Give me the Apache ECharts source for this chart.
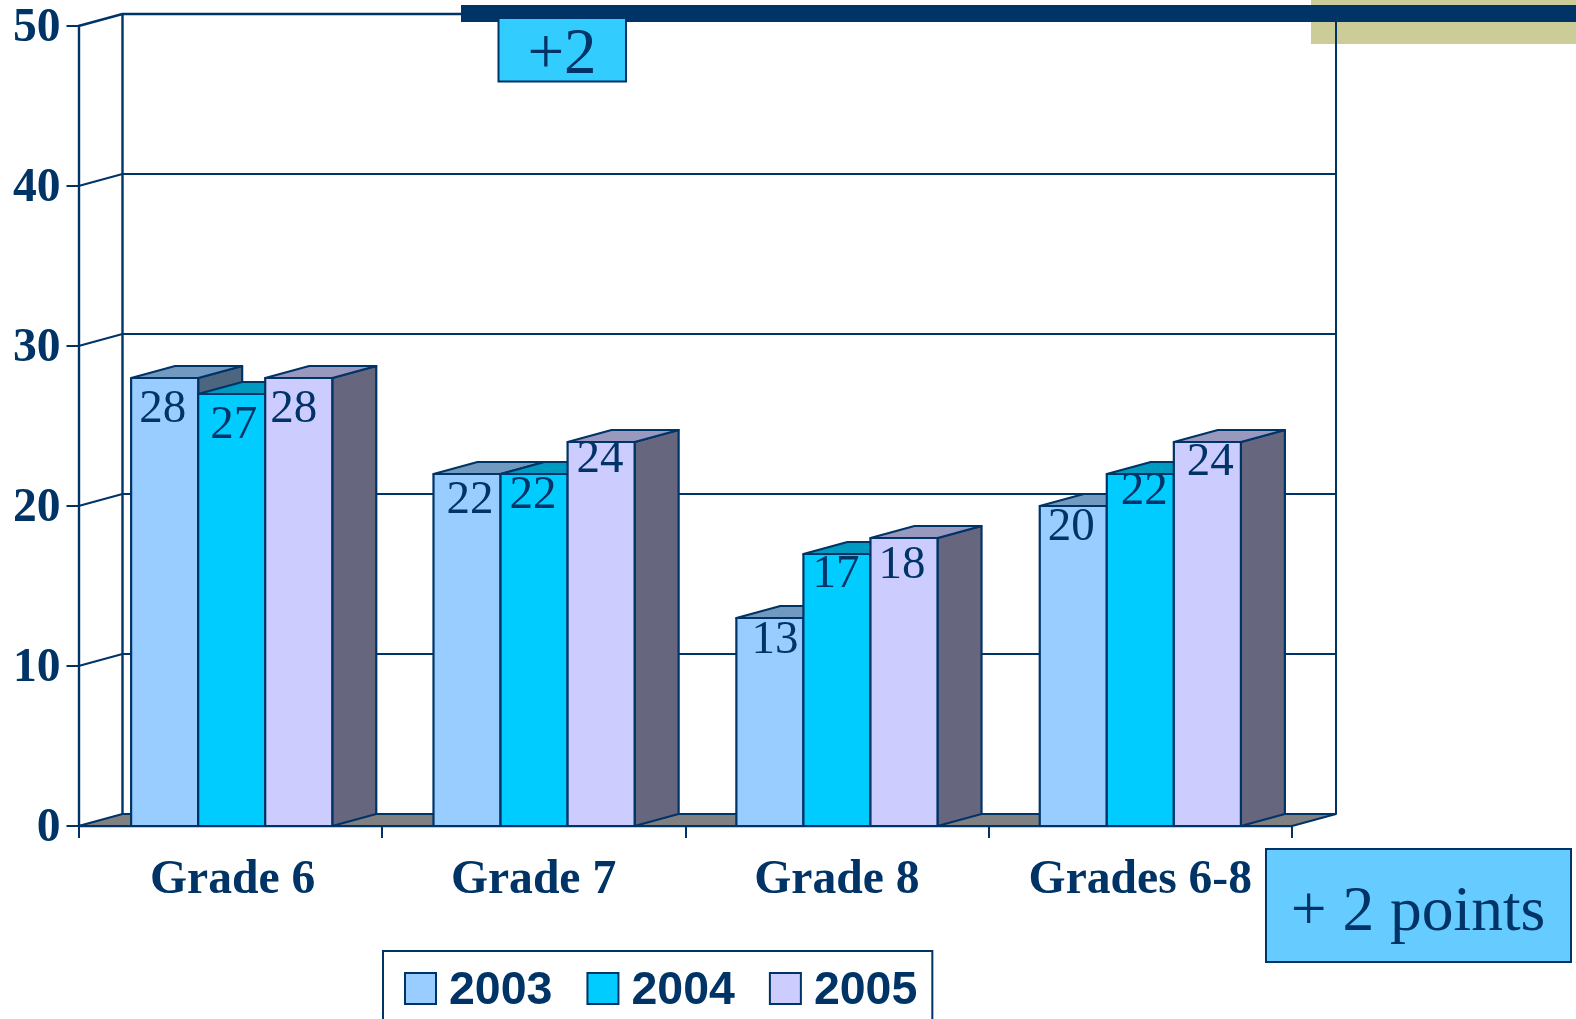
<!DOCTYPE html>
<html>
<head>
<meta charset="utf-8">
<title>Grade points</title>
<script src="https://cdn.jsdelivr.net/npm/echarts@6/dist/echarts.min.js"></script>
<style>
    html, body { margin: 0; padding: 0; background: #ffffff; }
    #main { width: 1576px; height: 1019px; }
</style>
</head>
<body>
<div id="main"></div>
<script>
    // values
    var categories = ['Grade 6', 'Grade 7', 'Grade 8', 'Grades 6-8']
    var years = ['2003', '2004', '2005']
    var values2003 = [28, 22, 13, 20]
    var values2004 = [27, 22, 17, 22]
    var values2005 = [28, 24, 18, 24]
    var yTicks = [0, 10, 20, 30, 40, 50]

    // colours of each bar: front, top, side
    var frontColors = ['#99CCFF', '#00CCFF', '#CCCCFF']
    var topColors = ['#7299BF', '#0099BF', '#9999BF']
    var sideColors = ['#4C667F', '#00667F', '#66667F']

    // labels were placed by hand in the original, so each one has its own nudge
    var nudgeX = [[-2, 3, 5, -2], [2, -1, -1, 4], [-5, -1, -2, 3]]
    var nudgeY = [[32, 27, 23, 22], [32, 22, 21, 18], [32, 18, 28, 21]]
    var groupNudge = [1.5, 0.5, 0, 0]

    var navy = '#003366'
    var depthX = 44
    var depthY = -12
    var barShare = 0.221

    var theChart = echarts.init(document.getElementById('main'))

    // back wall, floor and the little connectors from the axis
    function renderWall(params, api) {
        var v = api.value(1)
        var sys = params.coordSys
        var y = api.coord([0, v])[1]
        var left = sys.x
        var right = sys.x + sys.width
        var lineStyle = { stroke: navy, lineWidth: v == 50 ? 2.4 : 2, fill: null, lineJoin: 'round' }
        var children = []
        if (v == 0) {
            children.push({
                type: 'polygon',
                shape: { points: [[left, y], [left + depthX, y + depthY], [right + depthX, y + depthY], [right, y]] },
                style: { fill: '#808080', stroke: navy, lineWidth: 2, lineJoin: 'round' }
            })
        } else {
            children.push({
                type: 'polyline',
                shape: { points: [[left, y], [left + depthX, y + depthY], [right + depthX, y + depthY]] },
                style: lineStyle
            })
        }
        if (v == 50) {
            var bottom = sys.y + sys.height
            children.push({
                type: 'line',
                shape: { x1: left + depthX, y1: y + depthY, x2: left + depthX, y2: bottom + depthY },
                style: { stroke: navy, lineWidth: 2.4 }
            })
            children.push({
                type: 'line',
                shape: { x1: right + depthX, y1: y + depthY, x2: right + depthX, y2: bottom + depthY },
                style: { stroke: navy, lineWidth: 2 }
            })
        }
        return { type: 'group', children: children }
    }

    function barRenderer(s) {
        return function (params, api) {
            var i = api.value(0)
            var v = api.value(1)
            var band = api.size([1, 0])[0]
            var w = band * barShare
            var top = api.coord([i, v])
            var base = api.coord([i, 0])
            var x = top[0] + (s - 1) * w - w / 2 + groupNudge[i]
            var edge = { stroke: navy, lineWidth: 2.2, lineJoin: 'round' }
            return {
                type: 'group',
                children: [{
                    type: 'polygon',
                    shape: { points: [[x + w, top[1]], [x + w + depthX, top[1] + depthY], [x + w + depthX, base[1] + depthY], [x + w, base[1]]] },
                    style: Object.assign({ fill: sideColors[s] }, edge)
                }, {
                    type: 'polygon',
                    shape: { points: [[x, top[1]], [x + depthX, top[1] + depthY], [x + w + depthX, top[1] + depthY], [x + w, top[1]]] },
                    style: Object.assign({ fill: topColors[s] }, edge)
                }, {
                    type: 'rect',
                    shape: { x: x, y: top[1], width: w, height: base[1] - top[1] },
                    style: Object.assign({ fill: frontColors[s] }, edge)
                }, {
                    type: 'text',
                    style: {
                        text: String(v),
                        x: x + w / 2 + nudgeX[s][i],
                        y: top[1] + nudgeY[s][i],
                        fill: navy,
                        font: '47px "Liberation Serif"',
                        align: 'center',
                        verticalAlign: 'middle'
                    }
                }]
            }
        }
    }

    function barSeries(name, s, values) {
        return {
            name: name,
            type: 'custom',
            renderItem: barRenderer(s),
            data: values.map(function (v, i) { return [i, v] }),
            encode: { x: 0, y: 1 },
            clip: false,
            z: 3 + s
        }
    }

    var boldSerif = { color: navy, fontFamily: 'Liberation Serif', fontWeight: 'bold', fontSize: 47.6 }

    var option = {
        backgroundColor: '#ffffff',
        animation: false,
        grid: { left: 78.5, top: 26, width: 1213.5, height: 800, containLabel: false },
        legend: {
            left: 383,
            top: 951,
            orient: 'horizontal',
            padding: [17, 15, 40, 21],
            borderColor: navy,
            borderWidth: 2,
            itemWidth: 31,
            itemHeight: 31,
            itemGap: 34,
            selectedMode: false,
            formatter: '{t|{name}}',
            textStyle: {
                color: navy,
                fontFamily: 'Liberation Sans',
                fontWeight: 'bold',
                fontSize: 46.5,
                rich: {
                    t: {
                        color: navy,
                        fontFamily: 'Liberation Sans',
                        fontWeight: 'bold',
                        fontSize: 46.5,
                        padding: [6, 0, 0, 8]
                    }
                }
            },
            data: years.map(function (y, s) {
                return {
                    name: y,
                    icon: 'rect',
                    itemStyle: { color: frontColors[s], borderColor: navy, borderWidth: 2 }
                }
            })
        },
        xAxis: {
            type: 'category',
            data: categories,
            axisLine: { lineStyle: { color: navy, width: 2.4 } },
            axisTick: { show: true, length: 12, lineStyle: { color: navy, width: 2 } },
            axisLabel: Object.assign({
                interval: 0,
                margin: 31,
                formatter: function (value, index) {
                    return index == 0 ? '{first|' + value + '}' : value
                },
                rich: { first: Object.assign({ padding: [0, 0, 0, 5] }, boldSerif) }
            }, boldSerif)
        },
        yAxis: {
            type: 'value',
            min: 0,
            max: 50,
            interval: 10,
            splitLine: { show: false },
            axisLine: { show: true, lineStyle: { color: navy, width: 2.4 } },
            axisTick: { show: true, length: 12, lineStyle: { color: navy, width: 2 } },
            axisLabel: Object.assign({
                margin: 18,
                formatter: '{t|{value}}',
                rich: { t: Object.assign({ padding: [5, 0, 0, 0] }, boldSerif) }
            }, boldSerif)
        },
        series: [{
            type: 'custom',
            silent: true,
            renderItem: renderWall,
            data: yTicks.map(function (v) { return [0, v] }),
            encode: { x: 0, y: 1 },
            clip: false,
            z: 1
        }, barSeries(years[0], 0, values2003), barSeries(years[1], 1, values2004), barSeries(years[2], 2, values2005)],
        graphic: [
            { type: 'rect', z: -1, shape: { x: 1311, y: 0, width: 265, height: 44 }, style: { fill: '#CCCC99' } },
            { type: 'rect', z: 50, shape: { x: 461, y: 5, width: 1115, height: 17 }, style: { fill: navy } },
            { type: 'rect', z: 50, shape: { x: 498.5, y: 18, width: 127.5, height: 63.5 }, style: { fill: '#33CCFF', stroke: navy, lineWidth: 2 } },
            { type: 'text', z: 51, style: { text: '+2', x: 562, y: 56, fill: navy, font: '65px "Liberation Serif"', align: 'center', verticalAlign: 'middle' } },
            { type: 'rect', z: 50, shape: { x: 1266, y: 849, width: 305, height: 113 }, style: { fill: '#66CCFF', stroke: navy, lineWidth: 2 } },
            { type: 'text', z: 51, style: { text: '+ 2 points', x: 1418, y: 913, fill: navy, font: '63.5px "Liberation Serif"', align: 'center', verticalAlign: 'middle' } }
        ]
    }
    theChart.setOption(option)
</script>
</body>
</html>
